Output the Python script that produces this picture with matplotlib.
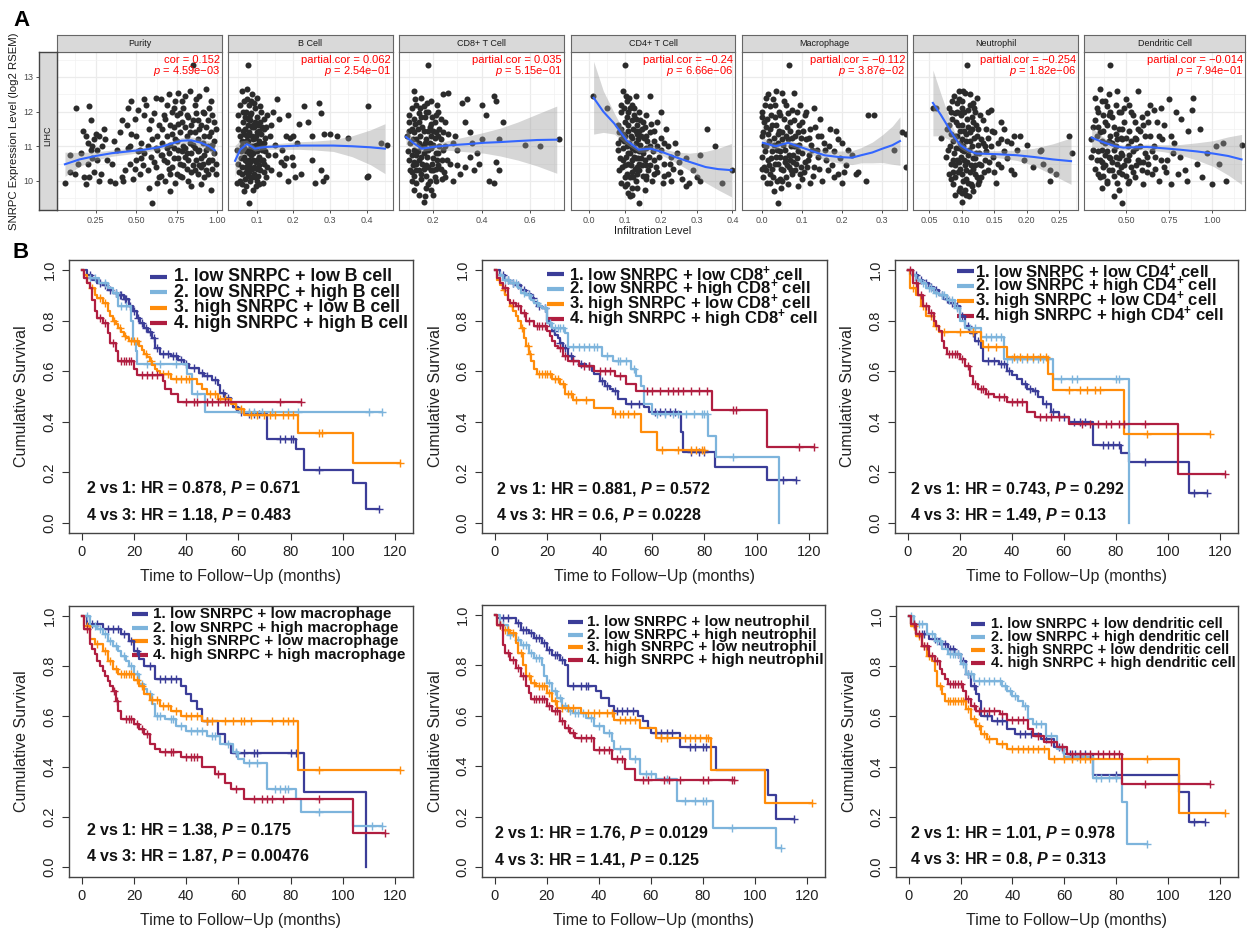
import numpy as np
import matplotlib.pyplot as plt

plt.rcParams['font.family'] = ['Liberation Sans', 'DejaVu Sans']
plt.rcParams['mathtext.fontset'] = 'custom'
plt.rcParams['mathtext.rm'] = 'Liberation Sans'
plt.rcParams['mathtext.it'] = 'Liberation Sans:italic'
plt.rcParams['mathtext.bf'] = 'Liberation Sans:bold'
plt.rcParams['mathtext.bfit'] = 'Liberation Sans:italic:bold'

# ---------------- Panel A : TIMER scatter data ----------------
cell_names = ['Purity', 'B Cell', 'CD8+ T Cell', 'CD4+ T Cell',
              'Macrophage', 'Neutrophil', 'Dendritic Cell']
cor_labels = ['cor = 0.152', 'partial.cor = 0.062', 'partial.cor = 0.035',
              'partial.cor = \u22120.24', 'partial.cor = \u22120.112',
              'partial.cor = \u22120.254', 'partial.cor = \u22120.014']
p_labels = ['4.59e\u221203', '2.54e\u221201', '5.15e\u221201', '6.66e\u221206',
            '3.87e\u221202', '1.82e\u221206', '7.94e\u221201']
x_ticks = [[0.25, 0.50, 0.75, 1.00], [0.1, 0.2, 0.3, 0.4], [0.2, 0.4, 0.6],
           [0.0, 0.1, 0.2, 0.3, 0.4], [0.0, 0.1, 0.2, 0.3],
           [0.05, 0.10, 0.15, 0.20, 0.25], [0.50, 0.75, 1.00]]
x_tick_labels = [['0.25', '0.50', '0.75', '1.00'], ['0.1', '0.2', '0.3', '0.4'],
                 ['0.2', '0.4', '0.6'], ['0.0', '0.1', '0.2', '0.3', '0.4'],
                 ['0.0', '0.1', '0.2', '0.3'],
                 ['0.05', '0.10', '0.15', '0.20', '0.25'], ['0.50', '0.75', '1.00']]
y_ticks = [10, 11, 12, 13]

pts_purity = [
    (0.06, 9.95), (0.09, 10.25), (0.09, 10.75), (0.12, 10.2), (0.13, 12.1), (0.14, 10.5),
    (0.16, 10.8), (0.17, 11.45), (0.18, 10.1), (0.19, 9.9), (0.20, 10.5), (0.20, 11.1),
    (0.21, 12.15), (0.21, 10.1), (0.22, 11.75), (0.22, 10.9), (0.23, 11.0), (0.24, 11.2),
    (0.24, 10.25), (0.25, 11.35), (0.26, 10.6), (0.26, 10.9), (0.27, 11.3), (0.28, 10.2),
    (0.29, 11.0), (0.30, 11.5), (0.32, 10.6), (0.34, 10.0), (0.36, 11.15), (0.37, 9.95),
    (0.38, 10.9), (0.40, 11.4), (0.41, 10.1), (0.42, 10.0), (0.43, 10.3), (0.44, 11.6),
    (0.45, 12.1), (0.46, 11.0), (0.46, 10.5), (0.47, 12.3), (0.48, 10.05), (0.49, 11.8),
    (0.50, 10.6), (0.50, 11.3), (0.51, 12.05), (0.52, 10.9), (0.52, 10.2), (0.53, 11.1),
    (0.54, 10.45), (0.55, 11.9), (0.55, 10.8), (0.56, 12.2), (0.57, 10.3), (0.58, 11.5),
    (0.58, 9.8), (0.59, 10.7), (0.60, 9.35), (0.60, 11.2), (0.61, 11.95), (0.62, 10.4),
    (0.62, 12.4), (0.63, 10.9), (0.64, 11.6), (0.65, 10.15), (0.65, 12.35), (0.66, 11.1),
    (0.67, 10.6), (0.68, 11.8), (0.68, 10.0), (0.69, 11.3), (0.70, 12.5), (0.70, 10.8),
    (0.71, 9.7), (0.71, 11.05), (0.72, 12.0), (0.72, 10.4), (0.73, 11.55), (0.73, 10.65),
    (0.74, 12.3), (0.74, 11.2), (0.75, 10.2), (0.75, 11.9), (0.76, 10.9), (0.76, 12.55),
    (0.77, 11.4), (0.77, 10.5), (0.78, 11.7), (0.78, 10.1), (0.79, 12.1), (0.79, 11.0),
    (0.80, 10.7), (0.80, 12.45), (0.81, 11.3), (0.81, 10.35), (0.82, 11.85), (0.82, 10.0),
    (0.83, 12.6), (0.83, 11.1), (0.84, 10.8), (0.84, 11.6), (0.85, 13.35), (0.85, 10.45),
    (0.86, 12.2), (0.86, 11.4), (0.87, 10.6), (0.87, 11.95), (0.88, 10.2), (0.88, 11.2),
    (0.89, 12.45), (0.89, 10.9), (0.90, 11.6), (0.90, 9.9), (0.91, 10.5), (0.91, 12.0),
    (0.92, 11.3), (0.92, 10.75), (0.93, 12.65), (0.93, 10.3), (0.94, 11.75), (0.94, 11.0),
    (0.95, 10.6), (0.95, 12.1), (0.96, 9.75), (0.96, 11.4), (0.97, 10.35), (0.97, 11.9),
    (0.98, 11.15), (0.98, 10.8), (0.99, 10.5), (0.99, 11.5), (0.72, 11.35), (0.76, 10.65),
    (0.80, 11.55), (0.84, 10.25), (0.88, 11.75), (0.92, 10.1), (0.96, 10.95), (0.70, 10.35),
    (0.78, 10.85), (0.86, 10.95), (0.90, 10.4), (0.94, 10.55), (0.66, 11.5), (0.62, 10.95),
    (0.61, 10.55), (0.63, 11.3), (0.64, 10.1), (0.66, 10.75), (0.67, 11.9), (0.69, 10.55),
    (0.69, 12.2), (0.71, 11.6), (0.71, 10.2), (0.73, 10.95), (0.74, 9.95), (0.75, 11.15),
    (0.76, 11.65), (0.77, 10.15), (0.78, 12.3), (0.79, 10.45), (0.80, 10.95), (0.81, 11.9),
    (0.82, 10.6), (0.83, 11.4), (0.84, 9.85), (0.85, 11.05), (0.86, 10.3), (0.87, 12.35),
    (0.88, 10.85), (0.89, 11.5), (0.90, 10.65), (0.91, 11.1), (0.92, 11.95), (0.93, 10.9),
    (0.94, 10.2), (0.95, 11.3), (0.96, 12.3), (0.97, 10.6), (0.98, 11.7), (0.99, 10.2),
    (0.97, 11.05), (0.93, 11.55), (0.89, 10.45), (0.85, 11.75), (0.81, 10.8), (0.77, 11.95),
    (0.73, 12.1), (0.69, 10.95), (0.65, 10.75), (0.57, 11.0), (0.53, 10.65), (0.49, 10.35),
    (0.45, 10.95), (0.41, 11.75), (0.55, 12.35), (0.59, 11.75), (0.63, 9.95), (0.47, 11.35),
    (0.51, 10.85), (0.35, 10.5), (0.31, 11.2), (0.27, 10.0), (0.23, 10.65), (0.19, 11.3)]

pts_bcell = [
    (0.045, 9.95), (0.05, 11.9), (0.05, 10.5), (0.055, 11.3), (0.055, 10.0), (0.06, 12.6),
    (0.06, 11.0), (0.06, 10.2), (0.062, 11.7), (0.065, 12.3), (0.065, 10.7), (0.065, 9.7),
    (0.068, 11.5), (0.07, 12.0), (0.07, 10.4), (0.07, 11.15), (0.072, 9.85), (0.074, 12.65),
    (0.075, 10.9), (0.075, 11.8), (0.076, 13.35), (0.077, 10.15), (0.078, 9.35), (0.08, 11.4),
    (0.08, 10.6), (0.08, 12.2), (0.082, 10.0), (0.085, 11.0), (0.085, 11.95), (0.086, 10.35),
    (0.088, 12.5), (0.09, 10.8), (0.09, 11.6), (0.09, 9.75), (0.092, 10.2), (0.095, 11.25),
    (0.095, 12.1), (0.097, 10.55), (0.10, 11.85), (0.10, 10.0), (0.10, 11.4), (0.102, 12.4),
    (0.105, 10.7), (0.106, 9.9), (0.108, 11.1), (0.11, 11.7), (0.11, 10.3), (0.113, 12.0),
    (0.115, 10.9), (0.118, 9.95), (0.12, 11.5), (0.12, 10.5), (0.123, 11.25), (0.125, 10.1),
    (0.128, 11.9), (0.13, 10.75), (0.058, 10.85), (0.063, 11.45), (0.067, 10.05), (0.073, 11.3),
    (0.079, 10.45), (0.083, 11.75), (0.087, 10.95), (0.093, 10.4), (0.098, 11.05), (0.104, 10.15),
    (0.112, 11.35), (0.116, 10.6), (0.135, 11.3), (0.14, 10.3), (0.145, 12.0), (0.15, 10.75),
    (0.155, 12.35), (0.16, 10.2), (0.16, 11.8), (0.17, 10.9), (0.175, 10.45), (0.18, 11.3),
    (0.185, 10.0), (0.19, 11.25), (0.195, 10.7), (0.20, 11.3), (0.205, 10.1), (0.21, 11.1),
    (0.22, 10.2), (0.23, 12.15), (0.24, 11.7), (0.25, 10.6), (0.26, 9.95), (0.27, 12.25),
    (0.275, 11.95), (0.275, 10.3), (0.28, 10.0), (0.285, 11.35), (0.29, 10.1), (0.30, 11.35),
    (0.32, 11.3), (0.35, 11.25), (0.40, 10.1), (0.405, 10.15), (0.405, 12.15), (0.44, 11.1),
    (0.455, 11.05), (0.068, 10.6), (0.076, 11.6), (0.084, 10.75), (0.094, 11.55), (0.101, 10.85),
    (0.046, 10.9), (0.048, 11.5), (0.052, 10.25), (0.054, 12.2), (0.057, 10.65), (0.059, 11.15),
    (0.061, 9.9), (0.064, 12.0), (0.066, 10.95), (0.069, 11.85), (0.071, 10.25), (0.073, 12.35),
    (0.074, 10.55), (0.077, 11.15), (0.078, 10.8), (0.081, 11.9), (0.082, 10.55), (0.084, 12.3),
    (0.086, 11.55), (0.088, 10.1), (0.089, 11.2), (0.091, 10.6), (0.093, 12.25), (0.094, 10.85),
    (0.096, 11.7), (0.097, 9.85), (0.099, 11.3), (0.101, 10.35), (0.103, 11.6), (0.105, 11.15),
    (0.107, 10.45), (0.109, 12.15), (0.111, 10.6), (0.114, 11.55), (0.117, 10.95), (0.119, 11.8),
    (0.121, 10.25), (0.124, 10.85), (0.126, 11.55), (0.129, 10.4), (0.06, 10.4), (0.07, 10.85),
    (0.08, 10.25), (0.09, 11.0), (0.1, 10.6), (0.11, 11.0), (0.12, 11.1), (0.066, 11.35),
    (0.076, 10.35), (0.086, 11.3), (0.096, 10.1), (0.106, 11.45), (0.14, 11.6), (0.15, 11.05),
    (0.165, 10.55), (0.18, 10.65), (0.2, 10.45), (0.215, 11.65), (0.25, 11.3), (0.185, 11.9)]

pts_cd8 = [
    (0.09, 11.3), (0.10, 10.6), (0.10, 11.9), (0.11, 10.0), (0.11, 11.5), (0.12, 12.6),
    (0.12, 10.9), (0.12, 9.75), (0.13, 11.2), (0.13, 10.3), (0.13, 12.2), (0.14, 11.7),
    (0.14, 10.6), (0.14, 9.6), (0.15, 11.0), (0.15, 12.4), (0.15, 10.2), (0.16, 11.45),
    (0.16, 10.8), (0.16, 9.4), (0.17, 12.0), (0.17, 10.45), (0.17, 11.2), (0.18, 13.35),
    (0.18, 10.9), (0.18, 9.9), (0.19, 11.65), (0.19, 10.3), (0.19, 12.3), (0.20, 11.05),
    (0.20, 10.65), (0.20, 9.6), (0.21, 11.4), (0.21, 10.0), (0.22, 12.0), (0.22, 10.8),
    (0.23, 11.2), (0.23, 10.35), (0.24, 12.5), (0.24, 10.9), (0.25, 11.7), (0.25, 10.1),
    (0.105, 11.1), (0.115, 10.45), (0.125, 11.65), (0.135, 10.85), (0.145, 11.3), (0.155, 10.5),
    (0.165, 11.85), (0.175, 10.7), (0.185, 11.1), (0.195, 10.5), (0.205, 11.7), (0.215, 10.6),
    (0.225, 11.5), (0.235, 10.05), (0.15, 10.05), (0.17, 9.8), (0.13, 9.95), (0.14, 11.95),
    (0.16, 12.15), (0.18, 11.45), (0.12, 11.4), (0.11, 10.75), (0.19, 10.95), (0.21, 10.35),
    (0.26, 12.55), (0.27, 10.5), (0.28, 10.0), (0.29, 11.3), (0.30, 10.9), (0.31, 10.2),
    (0.32, 12.25), (0.33, 11.7), (0.34, 12.35), (0.35, 11.4), (0.35, 10.7), (0.37, 10.3),
    (0.38, 10.8), (0.40, 12.2), (0.40, 11.2), (0.42, 11.9), (0.43, 10.0), (0.45, 9.95),
    (0.45, 12.45), (0.46, 12.3), (0.46, 10.55), (0.47, 10.3), (0.47, 11.2), (0.49, 11.7),
    (0.58, 11.05), (0.64, 11.0), (0.72, 11.2),
    (0.095, 10.85), (0.10, 11.45), (0.105, 10.3), (0.11, 12.1), (0.115, 11.2), (0.12, 10.55),
    (0.125, 12.35), (0.13, 10.75), (0.135, 11.5), (0.14, 10.3), (0.145, 12.1), (0.15, 10.7),
    (0.155, 11.55), (0.16, 10.35), (0.165, 11.1), (0.17, 10.9), (0.175, 12.25), (0.18, 10.4),
    (0.185, 11.55), (0.19, 9.75), (0.195, 11.85), (0.20, 10.3), (0.205, 11.25), (0.21, 10.8),
    (0.215, 12.2), (0.22, 10.45), (0.225, 11.0), (0.23, 11.8), (0.235, 10.6), (0.24, 11.4),
    (0.245, 10.25), (0.25, 11.0), (0.255, 10.6), (0.26, 11.35), (0.12, 11.8), (0.13, 10.5),
    (0.14, 11.1), (0.15, 11.85), (0.16, 11.0), (0.17, 10.15), (0.18, 12.0), (0.19, 11.3),
    (0.2, 11.45), (0.21, 11.9), (0.22, 11.3), (0.11, 10.25), (0.1, 11.7), (0.12, 10.15),
    (0.165, 9.55), (0.185, 10.0), (0.205, 10.1), (0.28, 11.1), (0.3, 10.45), (0.33, 10.4),
    (0.36, 11.1), (0.39, 10.5)]

pts_cd4 = [
    (0.012, 12.45), (0.05, 12.1), (0.08, 10.9), (0.08, 11.6), (0.085, 10.3), (0.09, 12.0),
    (0.09, 11.2), (0.09, 9.95), (0.095, 12.6), (0.095, 10.6), (0.10, 13.35), (0.10, 11.7),
    (0.10, 10.1), (0.105, 11.0), (0.105, 12.3), (0.11, 10.5), (0.11, 11.45), (0.11, 9.65),
    (0.115, 12.1), (0.115, 10.8), (0.12, 11.25), (0.12, 9.8), (0.12, 10.25), (0.125, 11.9),
    (0.125, 10.7), (0.13, 12.45), (0.13, 11.1), (0.13, 10.0), (0.135, 11.6), (0.135, 10.4),
    (0.14, 9.35), (0.14, 10.85), (0.14, 12.0), (0.145, 11.3), (0.15, 10.15), (0.15, 11.7),
    (0.155, 10.6), (0.16, 11.9), (0.16, 10.95), (0.165, 10.3), (0.17, 11.4), (0.17, 12.45),
    (0.175, 10.0), (0.18, 11.15), (0.18, 10.6), (0.19, 11.7), (0.19, 10.25), (0.20, 12.0),
    (0.20, 10.9), (0.205, 9.95), (0.21, 11.1), (0.21, 10.5), (0.22, 11.0), (0.22, 10.2),
    (0.23, 10.7), (0.23, 10.0), (0.24, 11.1), (0.25, 10.55), (0.26, 10.05), (0.27, 9.85),
    (0.29, 10.3), (0.30, 10.1), (0.31, 10.75), (0.31, 10.0), (0.33, 11.5), (0.35, 11.0),
    (0.37, 9.95), (0.40, 10.3), (0.085, 11.4), (0.095, 10.95), (0.10, 10.45), (0.107, 11.85),
    (0.113, 11.1), (0.118, 10.45), (0.123, 11.5), (0.128, 10.35), (0.133, 11.35), (0.138, 10.65),
    (0.143, 11.05), (0.148, 10.45), (0.153, 11.25), (0.158, 10.15), (0.12, 12.2), (0.11, 10.8),
    (0.13, 10.65), (0.10, 9.85), (0.115, 9.55), (0.09, 11.5), (0.14, 11.45), (0.16, 11.3),
    (0.082, 11.1), (0.086, 10.65), (0.088, 12.2), (0.092, 10.4), (0.094, 11.35), (0.097, 12.1),
    (0.099, 11.15), (0.102, 12.45), (0.104, 10.7), (0.106, 10.2), (0.108, 11.6), (0.112, 12.4),
    (0.114, 10.1), (0.116, 11.3), (0.119, 11.75), (0.121, 10.95), (0.124, 10.1), (0.126, 12.1),
    (0.129, 10.9), (0.131, 11.8), (0.134, 10.2), (0.137, 11.2), (0.139, 10.5), (0.142, 11.75),
    (0.146, 10.65), (0.149, 11.5), (0.152, 10.9), (0.156, 11.55), (0.159, 10.45), (0.163, 11.15),
    (0.167, 10.7), (0.171, 10.45), (0.174, 11.65), (0.178, 10.85), (0.182, 11.45), (0.186, 10.4),
    (0.19, 11.0), (0.195, 10.7), (0.2, 11.25), (0.21, 10.15), (0.215, 11.5), (0.225, 10.5),
    (0.235, 10.35), (0.245, 10.8), (0.255, 10.25), (0.27, 10.65), (0.28, 9.95), (0.1, 11.3),
    (0.11, 12.0), (0.12, 10.6), (0.13, 11.45), (0.14, 10.3), (0.15, 10.8), (0.16, 10.05),
    (0.17, 11.0), (0.18, 10.2), (0.12, 9.6), (0.135, 9.8), (0.155, 9.75), (0.105, 9.9)]

pts_mac = [
    (0.0, 12.0), (0.0, 11.3), (0.0, 10.7), (0.002, 10.1), (0.005, 11.7), (0.005, 10.4),
    (0.008, 12.2), (0.01, 11.0), (0.012, 9.95), (0.015, 12.5), (0.015, 10.6), (0.02, 11.5),
    (0.02, 10.2), (0.022, 11.9), (0.025, 10.85), (0.028, 12.35), (0.03, 11.25), (0.03, 9.7),
    (0.033, 10.5), (0.035, 12.6), (0.035, 11.6), (0.038, 10.0), (0.04, 9.35), (0.04, 11.1),
    (0.042, 12.0), (0.045, 10.7), (0.048, 9.8), (0.05, 12.55), (0.05, 11.4), (0.052, 10.3),
    (0.055, 11.8), (0.058, 10.9), (0.06, 12.2), (0.06, 10.1), (0.065, 11.2), (0.068, 13.35),
    (0.07, 10.6), (0.07, 11.7), (0.075, 12.05), (0.075, 10.2), (0.08, 12.55), (0.08, 11.0),
    (0.085, 10.5), (0.09, 11.4), (0.09, 9.85), (0.095, 12.2), (0.10, 10.8), (0.10, 11.7),
    (0.105, 10.25), (0.11, 12.0), (0.11, 11.2), (0.115, 10.6), (0.12, 11.5), (0.12, 9.95),
    (0.125, 10.9), (0.13, 12.1), (0.13, 10.4), (0.14, 11.3), (0.14, 10.7), (0.145, 11.8),
    (0.15, 10.0), (0.155, 11.1), (0.16, 10.6), (0.165, 10.3), (0.17, 11.5), (0.18, 10.85),
    (0.18, 10.1), (0.19, 11.2), (0.19, 10.2), (0.20, 11.1), (0.20, 9.95), (0.21, 10.45),
    (0.225, 10.75), (0.235, 10.2), (0.24, 10.25), (0.265, 11.9), (0.28, 11.9), (0.26, 10.0),
    (0.33, 10.9), (0.35, 11.4), (0.36, 11.35), (0.36, 10.4), (0.01, 11.55), (0.018, 11.15),
    (0.025, 10.35), (0.032, 11.85), (0.037, 10.9), (0.043, 11.45), (0.047, 10.35), (0.053, 11.05),
    (0.057, 10.55), (0.062, 11.55), (0.067, 10.4), (0.072, 11.0), (0.078, 10.75), (0.083, 11.3),
    (0.088, 10.65), (0.093, 11.05), (0.098, 10.4), (0.005, 11.05), (0.02, 9.95), (0.045, 10.05),
    (0.065, 9.9), (0.0, 11.85), (0.0, 10.35), (0.003, 11.4), (0.007, 10.85), (0.009, 12.4),
    (0.011, 10.3), (0.013, 11.8), (0.016, 11.35), (0.018, 10.45), (0.021, 12.15), (0.023, 10.65),
    (0.026, 11.6), (0.028, 10.1), (0.031, 11.05), (0.033, 12.2), (0.036, 10.7), (0.039, 11.35),
    (0.041, 10.5), (0.044, 11.9), (0.046, 10.85), (0.049, 11.2), (0.051, 10.0), (0.054, 12.3),
    (0.056, 10.65), (0.059, 11.3), (0.061, 10.45), (0.064, 11.95), (0.066, 10.75), (0.069, 11.45),
    (0.071, 10.3), (0.074, 11.25), (0.076, 10.55), (0.079, 11.75), (0.081, 10.3), (0.084, 11.0),
    (0.086, 12.0), (0.089, 10.85), (0.091, 11.6), (0.094, 10.2), (0.096, 11.25), (0.099, 10.05),
    (0.102, 11.45), (0.106, 10.55), (0.108, 11.9), (0.112, 10.4), (0.116, 11.25), (0.118, 10.75),
    (0.122, 11.05), (0.127, 10.15), (0.132, 11.55), (0.137, 10.9), (0.143, 10.35), (0.148, 11.3),
    (0.158, 10.9), (0.168, 11.0), (0.175, 10.45), (0.185, 11.45), (0.195, 10.65), (0.205, 10.25),
    (0.215, 10.9)]

pts_neu = [
    (0.056, 12.1), (0.06, 12.1), (0.068, 11.25), (0.075, 10.7), (0.078, 11.5), (0.08, 10.2),
    (0.08, 12.1), (0.082, 11.0), (0.084, 10.5), (0.085, 11.8), (0.086, 9.9), (0.088, 12.45),
    (0.088, 10.8), (0.09, 11.3), (0.09, 10.1), (0.092, 12.0), (0.093, 10.6), (0.094, 11.6),
    (0.095, 9.7), (0.096, 12.6), (0.097, 11.1), (0.098, 10.35), (0.099, 11.9), (0.10, 9.4),
    (0.10, 10.9), (0.101, 12.3), (0.102, 10.0), (0.103, 11.45), (0.104, 10.6), (0.105, 12.55),
    (0.105, 9.75), (0.106, 11.15), (0.107, 10.3), (0.108, 13.35), (0.108, 11.8), (0.11, 10.75),
    (0.11, 9.95), (0.112, 11.4), (0.113, 12.2), (0.114, 10.45), (0.115, 11.0), (0.116, 9.85),
    (0.118, 11.7), (0.12, 10.2), (0.12, 12.0), (0.122, 10.8), (0.124, 11.3), (0.126, 10.5),
    (0.128, 11.9), (0.13, 10.1), (0.132, 11.1), (0.135, 10.6), (0.138, 11.5), (0.14, 12.0),
    (0.14, 10.3), (0.145, 12.05), (0.145, 11.0), (0.148, 10.7), (0.15, 11.4), (0.152, 9.95),
    (0.155, 10.5), (0.16, 11.2), (0.16, 11.7), (0.165, 10.85), (0.17, 11.15), (0.175, 11.1),
    (0.18, 11.3), (0.18, 10.2), (0.19, 11.3), (0.21, 10.4), (0.22, 10.85), (0.222, 10.9),
    (0.225, 10.5), (0.235, 10.3), (0.235, 10.0), (0.245, 10.2), (0.265, 11.3), (0.27, 10.8),
    (0.083, 11.35), (0.087, 10.25), (0.091, 11.7), (0.095, 10.95), (0.097, 11.45), (0.099, 10.7),
    (0.101, 11.2), (0.103, 10.85), (0.106, 10.05), (0.109, 11.55), (0.112, 10.25), (0.115, 11.85),
    (0.117, 10.65), (0.119, 11.25), (0.121, 10.45), (0.123, 12.4), (0.125, 11.05), (0.127, 10.0),
    (0.09, 9.6), (0.111, 9.55), (0.085, 12.3), (0.10, 12.1),
    (0.079, 10.9), (0.081, 11.6), (0.083, 10.05), (0.084, 12.0), (0.086, 10.6), (0.087, 11.15),
    (0.089, 11.95), (0.09, 10.45), (0.091, 10.95), (0.093, 11.3), (0.094, 10.25), (0.096, 10.55),
    (0.097, 11.95), (0.098, 9.8), (0.1, 11.6), (0.1, 10.2), (0.102, 11.0), (0.104, 12.0),
    (0.105, 10.45), (0.107, 11.35), (0.108, 10.55), (0.11, 12.05), (0.111, 10.9), (0.113, 11.15),
    (0.114, 9.9), (0.116, 11.5), (0.117, 10.35), (0.119, 12.1), (0.12, 10.65), (0.122, 11.6),
    (0.123, 10.1), (0.125, 11.5), (0.127, 10.8), (0.129, 11.2), (0.13, 10.45), (0.132, 11.75),
    (0.134, 10.25), (0.136, 11.0), (0.138, 10.85), (0.14, 11.25), (0.142, 10.55), (0.146, 11.45),
    (0.15, 10.25), (0.155, 11.1), (0.16, 10.4), (0.165, 11.5), (0.17, 10.65), (0.175, 10.3),
    (0.185, 10.9), (0.195, 10.6), (0.2, 11.05), (0.092, 12.25), (0.096, 12.35), (0.102, 12.6),
    (0.113, 12.5), (0.118, 12.25), (0.1, 9.65), (0.107, 9.6), (0.118, 9.7), (0.125, 9.9)]

pts_dc = [
    (0.30, 11.2), (0.32, 11.75), (0.33, 10.6), (0.33, 12.1), (0.34, 10.2), (0.35, 11.4),
    (0.35, 12.65), (0.36, 10.9), (0.36, 9.8), (0.37, 11.9), (0.37, 10.4), (0.38, 11.1),
    (0.38, 12.3), (0.39, 10.0), (0.39, 11.6), (0.40, 10.7), (0.40, 12.5), (0.41, 13.35),
    (0.41, 11.3), (0.42, 10.3), (0.42, 11.85), (0.43, 10.9), (0.43, 9.55), (0.44, 12.2),
    (0.44, 11.0), (0.45, 10.5), (0.45, 12.6), (0.46, 11.5), (0.46, 9.75), (0.47, 10.8),
    (0.47, 12.0), (0.48, 11.2), (0.48, 10.2), (0.48, 9.35), (0.49, 11.7), (0.50, 10.6),
    (0.50, 12.35), (0.51, 11.0), (0.51, 9.95), (0.52, 11.45), (0.53, 10.4), (0.53, 12.0),
    (0.54, 10.85), (0.55, 11.7), (0.55, 10.1), (0.56, 11.2), (0.57, 10.6), (0.57, 12.6),
    (0.58, 11.0), (0.59, 10.3), (0.60, 11.6), (0.60, 9.9), (0.61, 10.8), (0.62, 11.95),
    (0.63, 10.5), (0.64, 11.3), (0.64, 12.2), (0.65, 10.2), (0.66, 11.0), (0.67, 10.7),
    (0.68, 11.7), (0.69, 10.0), (0.70, 12.1), (0.71, 11.2), (0.72, 10.4), (0.74, 10.6),
    (0.75, 12.35), (0.76, 9.9), (0.78, 11.1), (0.80, 10.2), (0.82, 11.8), (0.84, 10.3),
    (0.85, 10.0), (0.88, 12.05), (0.89, 12.4), (0.91, 10.5), (0.93, 11.5), (0.94, 10.1),
    (1.00, 9.9), (1.02, 11.0), (1.04, 10.5), (1.06, 11.1), (1.08, 10.0), (1.17, 11.05),
    (0.31, 10.9), (0.34, 11.55), (0.36, 10.55), (0.38, 10.75), (0.40, 11.9), (0.42, 10.55),
    (0.44, 11.35), (0.46, 10.25), (0.47, 11.25), (0.49, 10.45), (0.52, 10.75), (0.54, 11.9),
    (0.56, 10.95), (0.58, 11.45), (0.62, 10.25), (0.35, 10.1), (0.39, 9.95), (0.52, 10.0),
    (0.30, 10.7), (0.31, 11.55), (0.32, 10.35), (0.32, 12.4), (0.33, 11.3), (0.34, 10.85),
    (0.34, 12.0), (0.35, 10.6), (0.36, 11.15), (0.36, 12.3), (0.37, 10.15), (0.37, 11.45),
    (0.38, 10.45), (0.38, 11.7), (0.39, 10.85), (0.39, 12.15), (0.40, 10.3), (0.40, 11.15),
    (0.41, 10.65), (0.41, 12.0), (0.42, 11.1), (0.43, 10.15), (0.43, 11.55), (0.44, 10.7),
    (0.45, 11.2), (0.45, 9.95), (0.46, 10.65), (0.46, 12.0), (0.47, 10.4), (0.48, 11.5),
    (0.48, 10.75), (0.49, 12.1), (0.50, 11.25), (0.50, 10.15), (0.51, 10.6), (0.52, 12.2),
    (0.53, 11.15), (0.54, 10.25), (0.55, 11.25), (0.56, 10.45), (0.57, 11.5), (0.58, 10.55),
    (0.59, 11.85), (0.60, 10.55), (0.61, 11.3), (0.62, 10.7), (0.63, 11.7), (0.65, 10.85),
    (0.66, 12.05), (0.67, 10.35), (0.69, 11.3), (0.70, 10.6), (0.72, 11.6), (0.73, 10.25),
    (0.76, 11.3), (0.77, 10.8), (0.79, 12.0), (0.81, 10.7), (0.86, 11.45), (0.97, 10.8)]

# loess fits: (x, fitted, half-width of band)
fit_purity = [(0.06, 10.48, 0.35), (0.15, 10.62, 0.2), (0.25, 10.72, 0.12), (0.35, 10.80, 0.09),
              (0.45, 10.85, 0.08), (0.55, 10.90, 0.07), (0.65, 10.98, 0.07), (0.72, 11.08, 0.08),
              (0.78, 11.16, 0.09), (0.84, 11.17, 0.1), (0.90, 11.10, 0.12), (0.95, 11.0, 0.15),
              (0.985, 10.88, 0.2)]
fit_bcell = [(0.041, 10.58, 0.45), (0.055, 10.9, 0.25), (0.073, 11.06, 0.12), (0.085, 11.0, 0.08),
             (0.095, 10.93, 0.07), (0.11, 10.96, 0.07), (0.127, 10.98, 0.07), (0.17, 11.0, 0.09),
             (0.218, 11.02, 0.11), (0.26, 11.02, 0.13), (0.309, 11.02, 0.17), (0.36, 11.0, 0.3),
             (0.41, 10.97, 0.5), (0.45, 10.93, 0.72)]
fit_cd8 = [(0.087, 11.27, 0.22), (0.12, 11.08, 0.12), (0.152, 10.93, 0.08), (0.2, 10.98, 0.08),
           (0.27, 11.03, 0.15), (0.338, 11.06, 0.22), (0.41, 11.1, 0.3), (0.476, 11.12, 0.4),
           (0.55, 11.15, 0.55), (0.63, 11.18, 0.75), (0.711, 11.19, 0.97)]
fit_cd4 = [(0.013, 12.40, 1.05), (0.04, 12.0, 0.6), (0.071, 11.65, 0.3), (0.105, 11.17, 0.12),
           (0.139, 10.90, 0.08), (0.172, 10.93, 0.09), (0.205, 10.83, 0.1), (0.24, 10.69, 0.15),
           (0.28, 10.55, 0.25), (0.325, 10.40, 0.45), (0.36, 10.34, 0.6), (0.397, 10.31, 0.77)]
fit_mac = [(0.002, 11.10, 0.15), (0.034, 11.0, 0.08), (0.065, 11.10, 0.08), (0.095, 10.98, 0.08),
           (0.125, 10.86, 0.1), (0.156, 10.74, 0.13), (0.19, 10.69, 0.17), (0.224, 10.67, 0.2),
           (0.247, 10.74, 0.22), (0.275, 10.82, 0.3), (0.30, 10.93, 0.4), (0.325, 11.03, 0.55),
           (0.344, 11.15, 0.7)]
fit_neu = [(0.0556, 12.25, 0.95), (0.068, 11.9, 0.6), (0.079, 11.56, 0.35), (0.088, 11.28, 0.18),
           (0.098, 11.03, 0.1), (0.11, 10.88, 0.08), (0.122, 10.79, 0.08), (0.155, 10.77, 0.1),
           (0.185, 10.74, 0.15), (0.211, 10.69, 0.25), (0.24, 10.62, 0.45), (0.268, 10.57, 0.67)]
fit_dc = [(0.302, 11.25, 0.3), (0.35, 11.15, 0.18), (0.389, 11.08, 0.12), (0.44, 11.0, 0.08),
          (0.485, 10.96, 0.07), (0.55, 10.97, 0.07), (0.62, 10.98, 0.08), (0.72, 10.94, 0.1),
          (0.813, 10.90, 0.15), (0.91, 10.85, 0.25), (1.004, 10.79, 0.37), (1.09, 10.72, 0.55),
          (1.168, 10.62, 0.72)]

scatter_sets = [pts_purity, pts_bcell, pts_cd8, pts_cd4, pts_mac, pts_neu, pts_dc]
fit_sets = [fit_purity, fit_bcell, fit_cd8, fit_cd4, fit_mac, fit_neu, fit_dc]

# ---------------- Panel B : Kaplan-Meier data ----------------
# per curve: event times, survival after each event, censoring times
bc_t1 = [2, 4, 6, 8, 10, 12, 14, 16, 18, 19.5, 21, 22.5, 24, 25.5, 27, 28, 30, 34, 37, 39, 41, 45, 47,
         50, 52, 53, 55, 57, 58, 60, 62, 71, 82, 85, 104, 109]
bc_s1 = [0.98, 0.96, 0.95, 0.94, 0.92, 0.91, 0.90, 0.885, 0.86, 0.84, 0.81, 0.79, 0.77, 0.755, 0.73,
         0.69, 0.67, 0.66, 0.645, 0.627, 0.613, 0.594, 0.58, 0.565, 0.547, 0.515, 0.495, 0.475, 0.46,
         0.44, 0.43, 0.333, 0.293, 0.211, 0.156, 0.053]
bc_c1 = [3, 7, 9, 11, 13, 14.5, 15, 16.5, 17, 18.5, 20, 21.5, 23, 24.5, 26, 27.5, 29, 31, 33, 35, 36,
         38, 40, 43, 46, 48, 51, 54, 56, 59, 61, 64, 66, 68, 76, 78, 80, 81, 91, 114]
bc_t2 = [1, 6.5, 10, 12, 14, 19, 19.8, 20.8, 21.3, 40.2, 42.1, 47.2]
bc_s2 = [0.97, 0.95, 0.93, 0.91, 0.86, 0.80, 0.72, 0.68, 0.63, 0.59, 0.51, 0.44]
bc_c2 = [3, 5, 9, 13, 15, 17, 25, 30, 36, 44, 64, 66, 69, 73, 79, 83, 110, 115]
bc_t3 = [1, 2, 3, 5, 6, 8, 10, 11, 12, 13, 14, 15, 16, 17, 18, 22, 23, 24, 25, 26, 27, 28, 29, 30, 34,
         44, 46, 48, 52, 57, 59, 62, 83, 104]
bc_s3 = [0.98, 0.95, 0.93, 0.90, 0.89, 0.87, 0.84, 0.82, 0.80, 0.785, 0.77, 0.755, 0.74, 0.73, 0.72,
         0.70, 0.685, 0.67, 0.655, 0.64, 0.625, 0.61, 0.60, 0.59, 0.57, 0.55, 0.53, 0.51, 0.49, 0.47,
         0.45, 0.425, 0.355, 0.235]
bc_c3 = [4, 7, 9, 12.5, 14.5, 16.5, 19, 20, 21, 24.5, 26.5, 31, 33, 36, 38, 40, 41, 49, 51, 53, 55,
         61, 65, 67, 70, 72, 74, 77, 79, 81, 91, 92, 122]
bc_t4 = [1, 2, 3, 4, 5, 6, 8, 10, 11, 13, 14, 20, 21, 31, 32, 34, 37]
bc_s4 = [0.97, 0.95, 0.93, 0.88, 0.84, 0.81, 0.79, 0.75, 0.71, 0.68, 0.64, 0.61, 0.585, 0.56, 0.53,
         0.51, 0.48]
bc_c4 = [7, 9, 12, 15, 16, 17, 18, 19, 23, 25, 27, 29, 40, 43, 44, 48, 50, 52, 55, 56, 76, 84]

cd8_t1 = [2, 4, 6, 8, 10, 12, 14, 15, 16, 18, 20, 21, 22, 23, 24, 25, 26, 28, 30, 32, 35, 37, 38, 40,
          42, 44, 45, 47, 50, 57, 59, 71, 72, 84, 104]
cd8_s1 = [0.98, 0.96, 0.95, 0.94, 0.92, 0.905, 0.89, 0.875, 0.86, 0.85, 0.80, 0.78, 0.76, 0.745, 0.73,
          0.71, 0.69, 0.66, 0.64, 0.63, 0.62, 0.60, 0.59, 0.56, 0.54, 0.53, 0.52, 0.49, 0.47, 0.46,
          0.44, 0.36, 0.28, 0.22, 0.17]
cd8_c1 = [3, 5, 7, 9, 11, 13, 14.5, 17, 19, 22.5, 25, 27, 29, 33, 36, 41, 43, 46, 52, 55, 61, 63, 65,
          67, 69, 75, 78, 80, 110, 115]
cd8_t2 = [1, 3, 6, 9, 10, 12, 14, 15, 17, 18, 20, 22, 27, 28, 41, 45, 52, 54, 56, 57, 60, 81.6, 84.4,
          108.5]
cd8_s2 = [0.98, 0.96, 0.95, 0.93, 0.91, 0.90, 0.88, 0.87, 0.86, 0.85, 0.79, 0.77, 0.75, 0.696, 0.66,
          0.64, 0.61, 0.58, 0.54, 0.47, 0.43, 0.345, 0.26, 0.0]
cd8_c2 = [2, 4, 5, 7, 8, 11, 13, 16, 19, 21, 23, 24, 25, 26, 30, 32, 34, 36, 38, 39, 43, 47, 48, 50,
          53, 62, 65, 68, 70, 73, 76, 79, 80, 81, 91]
cd8_t3 = [1, 2, 3, 4, 5, 6, 7, 8, 9, 10, 11, 12, 13, 14, 15, 16, 22, 25, 27, 30, 38, 45, 56, 62]
cd8_s3 = [0.96, 0.94, 0.92, 0.90, 0.88, 0.86, 0.84, 0.82, 0.80, 0.77, 0.73, 0.70, 0.67, 0.64, 0.61,
          0.59, 0.57, 0.55, 0.51, 0.485, 0.455, 0.43, 0.36, 0.29]
cd8_c3 = [3.5, 6.5, 10.5, 12.5, 13.5, 17, 18, 19, 20, 21, 23, 24, 26, 28, 29, 31, 35, 46, 48, 49, 51,
          53, 64, 70, 75, 77, 79, 80]
cd8_t4 = [1, 2, 3, 5, 6, 8, 10, 12, 15, 20, 21, 22, 23, 24, 26, 28, 32, 38, 46, 50, 54, 83, 104]
cd8_s4 = [0.97, 0.95, 0.93, 0.88, 0.87, 0.86, 0.83, 0.80, 0.78, 0.76, 0.74, 0.72, 0.70, 0.69, 0.66,
          0.64, 0.62, 0.60, 0.58, 0.55, 0.52, 0.445, 0.30]
cd8_c4 = [4, 7, 9, 11, 13, 16, 17, 18, 19, 25, 27, 30, 34, 36, 40, 42, 44, 48, 58, 60, 63, 66, 68, 70,
          72, 75, 78, 81, 91, 92, 116, 122]

cd4_t1 = [2, 4, 6, 8, 10, 12, 14, 16, 18, 20, 22, 24, 26, 28, 29, 35, 38, 40, 42, 44, 46, 48, 50, 52,
          55, 58, 62, 71, 82, 85, 108]
cd4_s1 = [0.98, 0.96, 0.95, 0.935, 0.92, 0.90, 0.885, 0.87, 0.86, 0.82, 0.78, 0.75, 0.72, 0.69, 0.64,
          0.63, 0.60, 0.585, 0.57, 0.55, 0.53, 0.52, 0.50, 0.47, 0.44, 0.42, 0.40, 0.31, 0.275, 0.24,
          0.12]
cd4_c1 = [3, 5, 7, 9, 11, 13, 15, 17, 19, 21, 23, 25, 27, 31, 33, 36, 37, 39, 45, 47, 49, 53, 56, 60,
          64, 66, 68, 75, 77, 79, 81, 91, 110, 115]
cd4_t2 = [1, 3, 5, 7, 10, 12, 15, 18, 20, 22, 28, 37, 56, 85]
cd4_s2 = [0.98, 0.96, 0.95, 0.93, 0.91, 0.90, 0.88, 0.85, 0.80, 0.77, 0.735, 0.65, 0.57, 0.0]
cd4_c2 = [2, 4, 6, 8, 9, 11, 13, 14, 16, 17, 19, 24, 26, 30, 32, 34, 36, 38, 40, 42, 44, 46, 48, 50,
          52, 54, 59, 63, 65, 80, 81]
cd4_t3 = [1, 3, 5, 7, 10, 12, 28, 29, 38, 54, 56, 83]
cd4_s3 = [0.93, 0.90, 0.86, 0.82, 0.78, 0.755, 0.72, 0.695, 0.655, 0.59, 0.525, 0.35]
cd4_c3 = [2, 6, 9, 11, 14, 20, 25, 31, 34, 41, 43, 46, 48, 51, 53, 62, 66, 69, 72, 74, 92, 116]
cd4_t4 = [2, 4, 6, 8, 10, 11, 12, 13, 14, 15, 20, 22, 24, 25, 27, 30, 33, 38, 46, 49, 62, 104]
cd4_s4 = [0.95, 0.90, 0.86, 0.83, 0.80, 0.78, 0.76, 0.72, 0.69, 0.67, 0.65, 0.62, 0.58, 0.55, 0.53,
          0.51, 0.50, 0.48, 0.44, 0.42, 0.39, 0.195]
cd4_c4 = [1, 3, 5, 7, 9, 16, 17, 18, 19, 21, 23, 26, 28, 29, 31, 35, 37, 40, 42, 44, 51, 53, 55, 58,
          67, 70, 73, 76, 78, 81, 83, 91, 122]

mac_t1 = [2, 8, 15, 18, 20, 22, 24, 28, 38, 40, 42, 44, 46, 52, 55, 57, 85, 109]
mac_s1 = [0.97, 0.95, 0.93, 0.90, 0.86, 0.83, 0.80, 0.75, 0.72, 0.69, 0.66, 0.63, 0.58, 0.53, 0.49,
          0.455, 0.30, 0.0]
mac_c1 = [4, 6, 10, 12, 14, 16, 19, 21, 26, 30, 32, 34, 36, 48, 59, 62, 66, 67, 80, 82]
mac_t2 = [3, 6, 8, 10, 12, 14, 15, 17, 18, 20, 22, 24, 25, 27, 28, 32, 36, 40, 48, 53, 58, 60, 62, 71,
          82, 84, 104]
mac_s2 = [0.96, 0.95, 0.93, 0.90, 0.88, 0.86, 0.84, 0.82, 0.80, 0.77, 0.73, 0.71, 0.69, 0.65, 0.60,
          0.59, 0.56, 0.54, 0.52, 0.49, 0.46, 0.43, 0.415, 0.31, 0.27, 0.22, 0.165]
mac_c2 = [2, 5, 7, 9, 11, 13, 16, 19, 21, 23, 26, 29, 30, 34, 35, 38, 42, 44, 46, 50, 51, 56, 59, 64,
          67, 74, 76, 78, 79, 91, 111, 115]
mac_t3 = [1, 3, 5, 8, 10, 12, 14, 20, 22, 24, 26, 30, 34, 38, 46, 83]
mac_s3 = [0.96, 0.91, 0.89, 0.86, 0.82, 0.79, 0.77, 0.745, 0.72, 0.69, 0.665, 0.64, 0.62, 0.60, 0.58,
          0.385]
mac_c3 = [2, 6, 9, 11, 13, 15, 16, 17, 18, 19, 21, 23, 27, 29, 31, 33, 36, 40, 42, 44, 48, 50, 55, 58,
          61, 62, 65, 73, 77, 79, 81, 91, 122]
mac_t4 = [1, 3, 4, 5, 6, 7, 8, 9, 10, 11, 12, 13, 14, 15, 20, 22, 24, 26, 28, 30, 38, 46, 51, 55, 57,
          62, 104]
mac_s4 = [0.95, 0.89, 0.87, 0.85, 0.82, 0.80, 0.78, 0.76, 0.74, 0.72, 0.70, 0.66, 0.62, 0.59, 0.57,
          0.55, 0.53, 0.49, 0.47, 0.46, 0.44, 0.40, 0.37, 0.335, 0.31, 0.27, 0.135]
mac_c4 = [2, 12.5, 13.5, 17, 18, 19, 21, 23, 25, 32, 34, 35, 40, 42, 43, 44, 52, 59, 66, 69, 71, 73,
          77, 91, 116]

neu_t1 = [1, 8, 10, 13, 15, 18, 20, 22, 25, 27, 28, 39, 41, 44, 46, 55, 57, 59, 60, 71, 85, 105, 108]
neu_s1 = [0.99, 0.97, 0.94, 0.93, 0.91, 0.89, 0.86, 0.84, 0.82, 0.80, 0.72, 0.70, 0.67, 0.64, 0.62,
          0.60, 0.58, 0.55, 0.53, 0.475, 0.385, 0.285, 0.19]
neu_c1 = [3, 5, 9, 11, 12, 14, 16, 17, 19, 21, 23, 24, 26, 30, 33, 35, 36, 47, 49, 51, 53, 62, 64, 66,
          68, 75, 77, 80, 81, 115]
neu_t2 = [2, 5, 8, 10, 13, 15, 18, 19, 20, 22, 24, 26, 28, 30, 35, 38, 42, 45, 46, 52, 56, 62, 70, 84,
          108]
neu_s2 = [0.96, 0.92, 0.90, 0.88, 0.85, 0.83, 0.80, 0.76, 0.73, 0.70, 0.67, 0.64, 0.62, 0.61, 0.59,
          0.56, 0.53, 0.50, 0.47, 0.43, 0.37, 0.35, 0.26, 0.155, 0.075]
neu_c2 = [3, 6, 9, 11, 12, 14, 16, 17, 21, 23, 25, 27, 29, 31, 32, 34, 37, 40, 44, 48, 54, 58, 60, 66,
          73, 77, 80, 81, 91, 110]
neu_t3 = [1, 3, 6, 8, 9, 11, 12, 14, 16, 20, 22, 24, 33, 46, 56, 62, 83, 104]
neu_s3 = [0.96, 0.94, 0.93, 0.89, 0.85, 0.80, 0.76, 0.73, 0.72, 0.69, 0.66, 0.63, 0.61, 0.585, 0.55,
          0.51, 0.385, 0.255]
neu_c3 = [2, 4, 5, 7, 10, 13, 15, 17, 18, 19, 21, 23, 26, 28, 30, 36, 38, 40, 43, 45, 48, 50, 52, 54,
          64, 66, 73, 75, 77, 79, 81, 82, 122]
neu_t4 = [1, 3, 4, 6, 8, 10, 12, 13, 14, 20, 22, 25, 27, 29, 31, 38, 45, 50, 54]
neu_s4 = [0.96, 0.88, 0.85, 0.82, 0.79, 0.76, 0.72, 0.69, 0.665, 0.64, 0.62, 0.58, 0.55, 0.53, 0.51,
          0.465, 0.43, 0.39, 0.345]
neu_c4 = [2, 5, 7, 9, 11, 15, 16, 17, 18, 19, 21, 23, 24, 26, 28, 30, 33, 35, 37, 40, 42, 44, 47, 49,
          57, 59, 65, 67, 71, 80, 82, 91, 92]

dc_t1 = [1, 3, 8, 12, 15, 18, 20, 22, 24, 26, 27, 28, 32, 38, 41, 51, 56, 60, 71, 104, 108]
dc_s1 = [0.97, 0.93, 0.91, 0.89, 0.87, 0.85, 0.82, 0.77, 0.72, 0.69, 0.66, 0.60, 0.58, 0.55, 0.53,
         0.51, 0.48, 0.45, 0.365, 0.30, 0.18]
dc_c1 = [2, 5, 6, 10, 13, 14, 16, 17, 19, 21, 23, 25, 30, 34, 36, 43, 45, 47, 53, 58, 62, 64, 66, 68,
         80, 110, 114]
dc_t2 = [2, 7, 10, 13, 15, 20, 22, 25, 36, 38, 40, 42, 44, 46, 48, 53, 57, 60, 71, 82, 84]
dc_s2 = [0.97, 0.93, 0.90, 0.87, 0.85, 0.81, 0.77, 0.74, 0.72, 0.70, 0.68, 0.66, 0.64, 0.59, 0.57,
         0.52, 0.47, 0.44, 0.355, 0.26, 0.09]
dc_c2 = [1, 4, 5, 9, 11, 12, 16, 17, 18, 19, 21, 23, 24, 27, 29, 31, 33, 35, 37, 39, 41, 45, 49, 51,
         55, 59, 63, 65, 72, 74, 77, 80, 92]
dc_t3 = [1, 3, 5, 7, 9, 10, 11, 13, 14, 22, 24, 26, 28, 30, 34, 38, 54, 104]
dc_s3 = [0.96, 0.92, 0.88, 0.84, 0.82, 0.78, 0.72, 0.69, 0.66, 0.63, 0.59, 0.56, 0.53, 0.51, 0.49,
         0.47, 0.43, 0.215]
dc_c3 = [2, 4, 6, 8, 12, 15, 16, 17, 18, 19, 20, 21, 23, 25, 27, 29, 31, 36, 40, 42, 44, 46, 48, 50,
         52, 56, 60, 63, 66, 68, 70, 92, 122]
dc_t4 = [1, 3, 5, 8, 10, 12, 13, 14, 15, 21, 22, 24, 26, 35, 38, 46, 48, 52, 57, 61, 82]
dc_s4 = [0.97, 0.93, 0.88, 0.84, 0.82, 0.79, 0.77, 0.75, 0.73, 0.70, 0.67, 0.64, 0.62, 0.61, 0.585,
         0.55, 0.52, 0.50, 0.48, 0.45, 0.33]
dc_c4 = [2, 4, 6, 7, 9, 11, 16, 17, 18, 19, 20, 23, 25, 27, 29, 31, 33, 36, 40, 42, 44, 50, 55, 59,
         63, 66, 70, 73, 75, 77, 79, 81, 91, 116]

km_cells = ['B cell', r'CD8$^{\mathbf{+}}$ cell', r'CD4$^{\mathbf{+}}$ cell',
            'macrophage', 'neutrophil', 'dendritic cell']
hr_21 = ['0.878', '0.881', '0.743', '1.38', '1.76', '1.01']
p_21 = ['0.671', '0.572', '0.292', '0.175', '0.0129', '0.978']
hr_43 = ['1.18', '0.6', '1.49', '1.87', '1.41', '0.8']
p_43 = ['0.483', '0.0228', '0.13', '0.00476', '0.125', '0.313']

km_curves = [
    [(bc_t1, bc_s1, bc_c1), (bc_t2, bc_s2, bc_c2), (bc_t3, bc_s3, bc_c3), (bc_t4, bc_s4, bc_c4)],
    [(cd8_t1, cd8_s1, cd8_c1), (cd8_t2, cd8_s2, cd8_c2), (cd8_t3, cd8_s3, cd8_c3), (cd8_t4, cd8_s4, cd8_c4)],
    [(cd4_t1, cd4_s1, cd4_c1), (cd4_t2, cd4_s2, cd4_c2), (cd4_t3, cd4_s3, cd4_c3), (cd4_t4, cd4_s4, cd4_c4)],
    [(mac_t1, mac_s1, mac_c1), (mac_t2, mac_s2, mac_c2), (mac_t3, mac_s3, mac_c3), (mac_t4, mac_s4, mac_c4)],
    [(neu_t1, neu_s1, neu_c1), (neu_t2, neu_s2, neu_c2), (neu_t3, neu_s3, neu_c3), (neu_t4, neu_s4, neu_c4)],
    [(dc_t1, dc_s1, dc_c1), (dc_t2, dc_s2, dc_c2), (dc_t3, dc_s3, dc_c3), (dc_t4, dc_s4, dc_c4)],
]
km_colors = ['#3B3D98', '#7DB4DC', '#FF8C0A', '#B01E40']

# ---------------- layout (pixels) ----------------
W, H = 1247, 931
fig = plt.figure(figsize=(W / 100, H / 100), dpi=100)


def rect(left, top, width, height):
    return [left / W, 1 - (top + height) / H, width / W, height / H]


A_LEFT = [57, 228, 399, 571, 742, 913, 1084]
A_WIDTH = [165, 165, 165, 164, 165, 165, 161]
A_XLIM = [(0.011, 1.029), (0.0217, 0.472), (0.058, 0.741), (-0.003, 0.407),
          (-0.0144, 0.3615), (0.0458, 0.2787), (0.2577, 1.188)]
A_TOP, A_H, STRIP_H = 52, 158, 17
YLIM_A = (9.16, 13.72)
BORDER = '#666666'

for i, name in enumerate(cell_names):
    ax = fig.add_axes(rect(A_LEFT[i], A_TOP, A_WIDTH[i], A_H))
    pts = np.array(scatter_sets[i])
    ax.scatter(pts[:, 0], pts[:, 1], s=19, c='#2B2B2B', linewidths=0, zorder=2)
    fit = np.array(fit_sets[i])
    ax.fill_between(fit[:, 0], fit[:, 1] - fit[:, 2], fit[:, 1] + fit[:, 2],
                    color='#999999', alpha=0.4, lw=0, zorder=3)
    ax.plot(fit[:, 0], fit[:, 1], color='#3366FF', lw=1.5, zorder=4)
    ax.set_xlim(A_XLIM[i])
    ax.set_ylim(YLIM_A)
    ax.set_xticks(x_ticks[i])
    ax.set_xticklabels(x_tick_labels[i])
    step = x_ticks[i][1] - x_ticks[i][0]
    ax.set_xticks(np.arange(x_ticks[i][0] - step / 2, A_XLIM[i][1], step), minor=True)
    ax.set_yticks(y_ticks)
    ax.set_yticks([9.5, 10.5, 11.5, 12.5, 13.5], minor=True)
    ax.set_axisbelow(True)
    ax.grid(which='major', color='#EBEBEB', lw=0.9)
    ax.grid(which='minor', color='#F2F2F2', lw=0.5)
    ax.tick_params(axis='x', which='major', length=2.5, width=0.6, color='#333333',
                   labelsize=6.5, labelcolor='#4D4D4D', pad=1.5)
    ax.tick_params(axis='y', which='major', length=0, labelleft=False)
    ax.tick_params(which='minor', length=0)
    for sp in ax.spines.values():
        sp.set_color(BORDER)
        sp.set_linewidth(0.8)
    ax.text(0.988, 0.95, cor_labels[i], transform=ax.transAxes, ha='right', va='center',
            color='red', fontsize=8)
    ax.text(0.988, 0.882, r'$p$ = ' + p_labels[i], transform=ax.transAxes, ha='right',
            va='center', color='red', fontsize=8)

    st = fig.add_axes(rect(A_LEFT[i], A_TOP - STRIP_H, A_WIDTH[i], STRIP_H))
    st.set_facecolor('#D9D9D9')
    st.set_xticks([])
    st.set_yticks([])
    for sp in st.spines.values():
        sp.set_color(BORDER)
        sp.set_linewidth(0.8)
    st.text(0.5, 0.5, name, transform=st.transAxes, ha='center', va='center',
            fontsize=6.5, color='#1A1A1A')

# LIHC row strip carries the y axis
ls = fig.add_axes(rect(38.5, A_TOP, 18.5, A_H))
ls.set_facecolor('#D9D9D9')
ls.set_ylim(YLIM_A)
ls.set_xticks([])
ls.set_yticks(y_ticks)
ls.set_yticklabels([str(v) for v in y_ticks])
ls.tick_params(axis='y', length=2.5, width=0.6, color='#333333', labelsize=6.5,
               labelcolor='#4D4D4D', pad=1.5)
for sp in ls.spines.values():
    sp.set_color('#444444')
    sp.set_linewidth(1.0)
ls.text(0.5, 0.47, 'LIHC', transform=ls.transAxes, rotation=90, ha='center', va='center',
        fontsize=6.5, color='#1A1A1A')

fig.text(14 / W, 1 - 131 / H, 'SNRPC Expression Level (log2 RSEM)', rotation=90,
         ha='center', va='center', fontsize=8.2, color='#1A1A1A')
fig.text(653 / W, 1 - 231.5 / H, 'Infiltration Level', ha='center', va='center',
         fontsize=7.8, color='#1A1A1A')
fig.text(22 / W, 1 - 20 / H, 'A', ha='center', va='center', fontsize=16, fontweight='bold')
fig.text(21 / W, 1 - 253 / H, 'B', ha='center', va='center', fontsize=16, fontweight='bold')

# ---------------- Panel B ----------------
KM_POS = [(69, 260, 344, 273), (482, 260, 345, 273), (895, 260, 343, 273),
          (69, 606, 344, 271), (482, 605, 343, 272), (896, 606, 342, 271)]
# legend: line x0, line x1, text x, first row y, row step, font size (axes fraction)
KM_LEG = [(0.235, 0.284, 0.305, 0.939, 0.057, 12.8),
          (0.188, 0.237, 0.252, 0.948, 0.055, 12),
          (0.182, 0.230, 0.233, 0.960, 0.055, 12),
          (0.182, 0.231, 0.243, 0.970, 0.050, 11),
          (0.251, 0.295, 0.307, 0.938, 0.047, 11),
          (0.219, 0.261, 0.279, 0.933, 0.048, 10.5)]
KM_HR = [(0.049, 0.164, 0.066), (0.041, 0.163, 0.066), (0.045, 0.163, 0.066),
         (0.049, 0.172, 0.076), (0.034, 0.160, 0.064), (0.042, 0.162, 0.066)]

for k in range(6):
    L, T, Wd, Ht = KM_POS[k]
    ax = fig.add_axes(rect(L, T, Wd, Ht))
    for j, (t, s, c) in enumerate(km_curves[k]):
        t = np.asarray(t, float)
        s = np.asarray(s, float)
        c = np.asarray(c, float)
        end = max(t.max(), c.max())
        xs = np.concatenate([[0], t, [end]])
        ys = np.concatenate([[1.0], s, [s[-1]]])
        ax.step(xs, ys, where='post', color=km_colors[j], lw=1.6, zorder=3 + j)
        cy = np.concatenate([[1.0], s])[np.searchsorted(t, c, side='right')]
        ax.plot(c, cy, ls='none', marker='+', ms=6, mew=1.0, color=km_colors[j], zorder=3 + j)
    ax.set_xlim(-4.88, 126.88)
    ax.set_ylim(-0.04, 1.04)
    ax.set_xticks(range(0, 121, 20))
    ax.set_yticks([0, 0.2, 0.4, 0.6, 0.8, 1.0])
    ax.set_yticklabels(['0.0', '0.2', '0.4', '0.6', '0.8', '1.0'], rotation=90, va='center')
    ax.tick_params(direction='out', length=5, width=0.8, colors='#333333', labelsize=10.5,
                   labelcolor='#222222', pad=4)
    for sp in ax.spines.values():
        sp.set_color('#444444')
        sp.set_linewidth(1.0)
    ax.set_xlabel('Time to Follow\u2212Up (months)', fontsize=11.5, color='#222222')
    ax.xaxis.set_label_coords(0.5, -44 / Ht)
    ax.xaxis.label.set_va('center')
    ax.set_ylabel('Cumulative Survival', fontsize=11.5, color='#222222')
    ax.yaxis.set_label_coords(-47 / Wd, 0.5)
    ax.yaxis.label.set_va('center')

    x0, x1, xt, y0, dy, fs = KM_LEG[k]
    labels = ['1. low SNRPC + low ', '2. low SNRPC + high ',
              '3. high SNRPC + low ', '4. high SNRPC + high ']
    for j, lab in enumerate(labels):
        yy = y0 - j * dy
        ax.plot([x0, x1], [yy, yy], transform=ax.transAxes, color=km_colors[j], lw=3,
                solid_capstyle='butt', clip_on=False)
        ax.text(xt, yy, lab + km_cells[k], transform=ax.transAxes, ha='left', va='center',
                fontsize=fs, fontweight='bold', color='#111111')

    hx, hy1, hy2 = KM_HR[k]
    ax.text(hx, hy1, '2 vs 1: HR = ' + hr_21[k] + r', $\mathbfit{P}$ = ' + p_21[k],
            transform=ax.transAxes, ha='left', va='center', fontsize=11.5, fontweight='bold',
            color='#111111')
    ax.text(hx, hy2, '4 vs 3: HR = ' + hr_43[k] + r', $\mathbfit{P}$ = ' + p_43[k],
            transform=ax.transAxes, ha='left', va='center', fontsize=11.5, fontweight='bold',
            color='#111111')

fig.savefig('out.png', dpi=100)
